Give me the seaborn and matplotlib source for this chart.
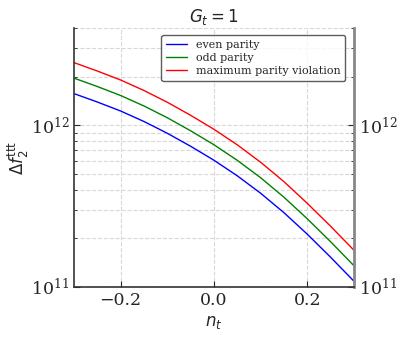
import numpy as np
import pandas as pd
import matplotlib
matplotlib.use("Agg")
import matplotlib.pyplot as plt
import seaborn as sns

n_t = [-0.3, -0.25, -0.2, -0.15, -0.1, -0.05, 0.0, 0.05, 0.1, 0.15, 0.2, 0.25, 0.3]
even = [1.571e12, 1.394e12, 1.226e12, 1.056e12, 8.93e11, 7.42e11, 6.08e11,
        4.87e11, 3.80e11, 2.88e11, 2.12e11, 1.527e11, 1.085e11]
odd = [1.959e12, 1.738e12, 1.529e12, 1.317e12, 1.114e12, 9.25e11, 7.58e11,
       6.07e11, 4.74e11, 3.59e11, 2.64e11, 1.904e11, 1.353e11]
maxviol = [2.443e12, 2.167e12, 1.907e12, 1.642e12, 1.389e12, 1.153e12, 9.45e11,
           7.57e11, 5.91e11, 4.48e11, 3.29e11, 2.374e11, 1.687e11]
labels = ['even parity', 'odd parity', 'maximum parity violation']

df = pd.DataFrame({
    'n_t': n_t * 3,
    'df2': even + odd + maxviol,
    'case': [labels[0]] * len(n_t) + [labels[1]] * len(n_t) + [labels[2]] * len(n_t),
})

sns.set_style('white')
plt.rcParams['font.family'] = ['DejaVu Serif']
plt.rcParams['mathtext.fontset'] = 'dejavusans'

fig = plt.figure(figsize=(4.05, 3.37), dpi=100)
ax = fig.add_axes([74/405, 1 - 287/337, 280/405, 259/337])
sns.lineplot(data=df, x='n_t', y='df2', hue='case', palette=['#0000ff', '#008000', '#ff0000'],
             linewidth=1.0, ax=ax)
ax.set_yscale('log')
ax.set_xlim(-0.3, 0.3)
ax.set_ylim(1e11, 4e12)
ax.set_xticks([-0.2, 0.0, 0.2])
ax.grid(True, which='both', axis='y', linestyle='--', color='#d8d8d8', linewidth=0.8)
ax.grid(True, which='major', axis='x', linestyle='--', color='#d8d8d8', linewidth=0.8)
ax.tick_params(axis='both', which='both', direction='in', labelsize=12.5)
ax.tick_params(axis='y', which='both', left=True, right=True, labelright=True)
ax.tick_params(axis='x', which='both', bottom=True)
ax.tick_params(which='major', length=4)
ax.tick_params(which='minor', length=2.5)
for s in ['left', 'bottom']:
    ax.spines[s].set_color('#333333')
    ax.spines[s].set_linewidth(1.2)
ax.spines['right'].set_color('#888888')
ax.spines['right'].set_linewidth(2)
ax.spines['top'].set_visible(False)

ax.set_xlabel(r'$n_t$', fontsize=12)
ax.set_ylabel(r'$\Delta f_2^{\rm ttt}$', fontsize=12)
ax.yaxis.set_label_coords(-0.155, 0.5)
ax.set_title(r'$G_t = 1$', fontsize=12, pad=4)
leg = ax.legend(loc='upper right', fontsize=8.0, frameon=True, fancybox=True,
                handlelength=1.9, handletextpad=0.8, labelspacing=0.3,
                borderaxespad=0.3, bbox_to_anchor=(0.98, 0.985))
leg.get_frame().set_edgecolor('#333333')
leg.get_frame().set_linewidth(1.0)
leg.set_title(None)

fig.savefig('out.png', dpi=100)
